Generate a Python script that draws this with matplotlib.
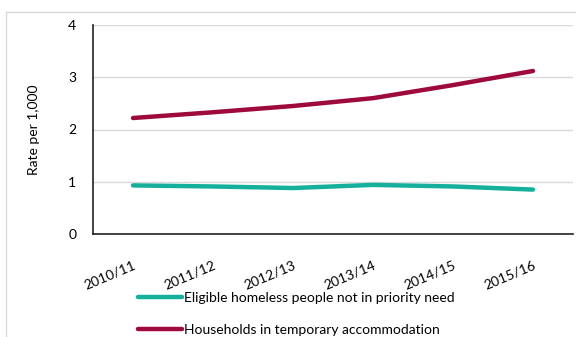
import matplotlib
matplotlib.use("Agg")
import matplotlib.pyplot as plt
from matplotlib.lines import Line2D

years = ["2010/11", "2011/12", "2012/13", "2013/14", "2014/15", "2015/16"]
not_priority = [0.93, 0.91, 0.88, 0.94, 0.91, 0.85]
temp_accom = [2.22, 2.33, 2.45, 2.60, 2.85, 3.12]
y_ticks = [0, 1, 2, 3, 4]

teal = "#14B09C"
maroon = "#9E0A3A"
font = ["Lato", "DejaVu Sans"]
plt.rcParams["font.family"] = font

W, H = 576, 337
fig = plt.figure(figsize=(W / 100, H / 100), dpi=100)
ax = fig.add_axes([93 / W, 1 - 234 / H, (573 - 93) / W, (234 - 25) / H])

x = list(range(len(years)))
l1, = ax.plot(x, not_priority, color=teal, lw=3.2, solid_capstyle="round")
l2, = ax.plot(x, temp_accom, color=maroon, lw=3.2, solid_capstyle="round")

ax.set_xlim(-0.5, len(years) - 0.5)
ax.set_ylim(0, 4)
ax.set_yticks(y_ticks)
ax.set_yticklabels([str(v) for v in y_ticks], fontsize=10)
ax.set_xticks(x)
ax.set_xticklabels(years, rotation=23, ha="right", rotation_mode="anchor", fontsize=10)
ax.tick_params(axis="both", length=0, pad=12)
ax.tick_params(axis="x", pad=18)
ax.grid(axis="y", color="#D9D9D9", lw=1)
ax.set_axisbelow(True)
for s in ["top", "right"]:
    ax.spines[s].set_visible(False)
ax.spines["left"].set_color("#222222")
ax.spines["bottom"].set_color("#222222")
ax.spines["left"].set_linewidth(1.2)
ax.spines["bottom"].set_linewidth(1.2)
ax.set_ylabel("Rate per 1,000", fontsize=10, labelpad=20)

# legend
fig.legend([l1, l2], ["Eligible homeless people not in priority need",
                      "Households in temporary accommodation"],
           loc="upper left", bbox_to_anchor=(138 / W, 1 - 292 / H),
           frameon=False, fontsize=10, handlelength=3.2, handletextpad=0.1,
           labelspacing=1.45, borderaxespad=0, borderpad=0)

# outer border (top and left)
fig.add_artist(Line2D([6 / W, 1], [1 - 12 / H, 1 - 12 / H], color="#D9D9D9", lw=1))
fig.add_artist(Line2D([6 / W, 6 / W], [0, 1 - 12 / H], color="#D9D9D9", lw=1))

fig.savefig("out.png", dpi=100)
